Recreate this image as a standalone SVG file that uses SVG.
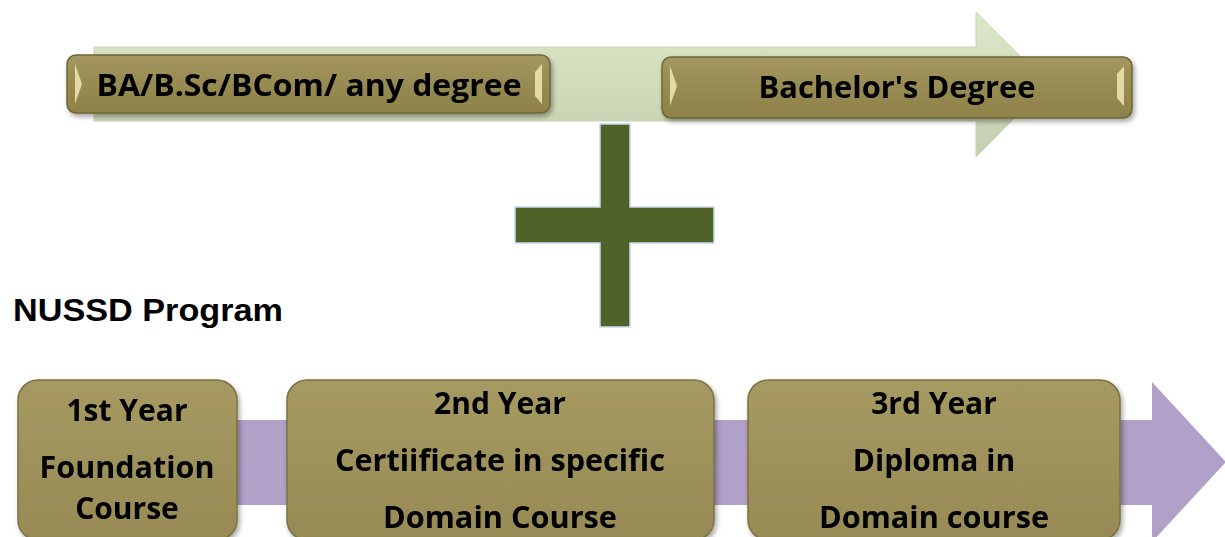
<svg xmlns="http://www.w3.org/2000/svg" width="1225" height="537" viewBox="0 0 1225 537">
<defs>
<linearGradient id="band" x1="0" y1="0" x2="0" y2="1"><stop offset="0" stop-color="#dde8c8"/><stop offset="1" stop-color="#c3cfae"/></linearGradient>
<linearGradient id="pill" x1="0" y1="0" x2="0" y2="1"><stop offset="0" stop-color="#a49760"/><stop offset="0.5" stop-color="#978a52"/><stop offset="1" stop-color="#8f824a"/></linearGradient>
<linearGradient id="box" x1="0" y1="0" x2="0" y2="1"><stop offset="0" stop-color="#a69a63"/><stop offset="1" stop-color="#978a54"/></linearGradient>
<filter id="sh" x="-10%" y="-10%" width="120%" height="130%"><feDropShadow dx="2" dy="3" stdDeviation="2.5" flood-color="#000" flood-opacity="0.35"/></filter>
</defs>
<style>
.t{font-family:"Open Sans",Lato,"Liberation Sans",sans-serif;font-weight:bold;fill:#000;text-anchor:middle}
.pill{fill:url(#pill);stroke:#6f6535;stroke-width:1.5}
.bev{fill:#f0e9b4;opacity:0.85}
.box{fill:url(#box);stroke:#7c713f;stroke-width:1.5}
</style>
<g id="connectors">
<polygon points="94,47 976,47 976,12 1048,84 976,157 976,121 94,121" fill="url(#band)" stroke="#c9d4b4" stroke-width="1"/>
<polygon points="215,420 1152,420 1152,382 1226,462 1152,542 1152,505 215,505" fill="#b1a0c7"/>
</g>
<g id="node-ba" filter="url(#sh)">
<rect class="pill" x="67" y="55" width="483" height="58" rx="9"/>
<polygon class="bev" points="75,64 82,84 75,104"/>
<polygon class="bev" points="542,64 535,72 535,96 542,104"/>
<text class="t" x="309" y="96" font-size="30" textLength="425" lengthAdjust="spacingAndGlyphs">BA/B.Sc/BCom/ any degree</text>
</g>
<g id="node-bachelor" filter="url(#sh)">
<rect class="pill" x="662" y="57" width="470" height="61" rx="9"/>
<polygon class="bev" points="670,66 677,86 670,106"/>
<polygon class="bev" points="1124,66 1117,74 1117,98 1124,106"/>
<text class="t" x="897" y="98" font-size="30" textLength="277" lengthAdjust="spacingAndGlyphs">Bachelor's Degree</text>
</g>
<g id="plus">
<polygon points="600,124 630,124 630,207 714,207 714,243 630,243 630,327 600,327 600,243 515,243 515,207 600,207" fill="#4f6228" stroke="#c6d9f1" stroke-width="1.5"/>
</g>
<g id="title">
<text x="13" y="321" font-family="'Liberation Sans',Arial,sans-serif" font-weight="bold" font-size="31" fill="#000" textLength="270" lengthAdjust="spacingAndGlyphs">NUSSD Program</text>
</g>
<g id="node-y1" filter="url(#sh)">
<rect class="box" x="18" y="380" width="219" height="160" rx="20"/>
<text class="t" x="127" y="421" font-size="30">1st Year</text>
<text class="t" x="127" y="478" font-size="30" textLength="175" lengthAdjust="spacingAndGlyphs">Foundation</text>
<text class="t" x="127" y="519" font-size="30">Course</text>
</g>
<g id="node-y2" filter="url(#sh)">
<rect class="box" x="287" y="380" width="427" height="160" rx="20"/>
<text class="t" x="500" y="414" font-size="30">2nd Year</text>
<text class="t" x="500" y="471" font-size="30" textLength="330" lengthAdjust="spacingAndGlyphs">Certiificate in specific</text>
<text class="t" x="500" y="528" font-size="30" textLength="234" lengthAdjust="spacingAndGlyphs">Domain Course</text>
</g>
<g id="node-y3" filter="url(#sh)">
<rect class="box" x="748" y="380" width="372" height="160" rx="20"/>
<text class="t" x="934" y="414" font-size="30">3rd Year</text>
<text class="t" x="934" y="471" font-size="30">Diploma in</text>
<text class="t" x="934" y="528" font-size="30" textLength="230" lengthAdjust="spacingAndGlyphs">Domain course</text>
</g>
</svg>
